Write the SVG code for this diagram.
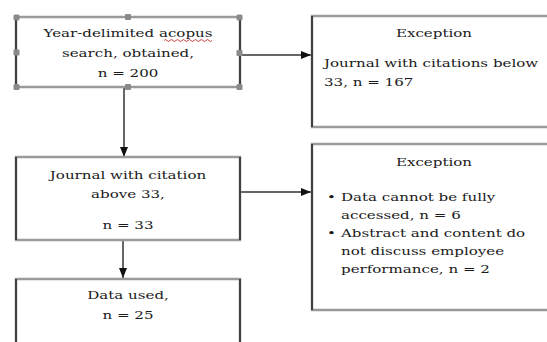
<svg xmlns="http://www.w3.org/2000/svg" width="547" height="342" viewBox="0 0 547 342">
<defs>
<style>
.box{fill:#fff;stroke:#9a9a9a;stroke-width:2.5}
.side{stroke:#222;stroke-width:1.5}
.t{font-family:"DejaVu Serif",serif;font-size:11.5px;fill:#1a1a1a}
.c{text-anchor:middle}
.conn{stroke:#333;stroke-width:1.5;fill:none}
.h{fill:#8a8a8a}
</style>
<marker id="arr" viewBox="0 0 10 8" refX="10" refY="4" markerWidth="10" markerHeight="8" markerUnits="userSpaceOnUse" orient="auto">
<path d="M0,0 L10,4 L0,8 z" fill="#111"/>
</marker>
</defs>
<rect width="547" height="342" fill="#fff"/>

<g id="connectors">
<line class="conn" x1="240" y1="55" x2="311" y2="55" marker-end="url(#arr)"/>
<line class="conn" x1="124" y1="88" x2="124" y2="157" marker-end="url(#arr)"/>
<line class="conn" x1="240" y1="192" x2="311" y2="192" marker-end="url(#arr)"/>
<line class="conn" x1="123" y1="241" x2="123" y2="278" marker-end="url(#arr)"/>
</g>

<g id="search">
<rect class="box" x="16" y="17" width="224" height="70"/>
<line class="side" x1="16" y1="17" x2="16" y2="87"/>
<line class="side" x1="240" y1="17" x2="240" y2="87"/>
<text class="t c" transform="translate(128,37) scale(1.31,1)">Year-delimited acopus</text>
<path d="M164,40.5 q1.5,-2 3,0 t3,0 t3,0 t3,0 t3,0 t3,0 t3,0 t3,0 t3,0 t3,0 t3,0 t3,0 t3,0 t3,0 t3,0 t3,0" fill="none" stroke="#d04040" stroke-width="1"/>
<text class="t c" transform="translate(128,57) scale(1.31,1)">search, obtained,</text>
<text class="t c" transform="translate(128,77) scale(1.31,1)">n = 200</text>
<g class="handles">
<rect class="h" x="13.5" y="14.5" width="6" height="6" rx="1.5"/>
<rect class="h" x="125" y="14" width="6" height="6" rx="1"/>
<rect class="h" x="236.5" y="14.5" width="6" height="6" rx="1.5"/>
<rect class="h" x="13.5" y="49.5" width="6" height="6" rx="1"/>
<rect class="h" x="236.5" y="50" width="6" height="6" rx="1"/>
<rect class="h" x="13.5" y="84" width="6" height="6" rx="1.5"/>
<rect class="h" x="125" y="84" width="6" height="6" rx="1"/>
<rect class="h" x="236.5" y="84" width="6" height="6" rx="1.5"/>
</g>
</g>

<g id="exception1">
<rect class="box" x="312" y="16" width="250" height="111"/>
<line class="side" x1="312" y1="16" x2="312" y2="127"/>
<text class="t c" transform="translate(434,37) scale(1.31,1)">Exception</text>
<text class="t" transform="translate(324,67) scale(1.31,1)">Journal with citations below</text>
<text class="t" transform="translate(324,86) scale(1.31,1)">33, n = 167</text>
</g>

<g id="above33">
<rect class="box" x="16" y="157" width="224" height="83"/>
<line class="side" x1="16" y1="157" x2="16" y2="240"/>
<line class="side" x1="240" y1="157" x2="240" y2="240"/>
<text class="t c" transform="translate(128,179) scale(1.31,1)">Journal with citation</text>
<text class="t c" transform="translate(128,198) scale(1.31,1)">above 33,</text>
<text class="t c" transform="translate(128,229) scale(1.31,1)">n = 33</text>
</g>

<g id="exception2">
<rect class="box" x="312" y="144" width="250" height="166"/>
<line class="side" x1="312" y1="144" x2="312" y2="310"/>
<text class="t c" transform="translate(434,166) scale(1.31,1)">Exception</text>
<text class="t" transform="translate(327,201) scale(1.31,1)">•</text>
<text class="t" transform="translate(341,201) scale(1.31,1)">Data cannot be fully</text>
<text class="t" transform="translate(341,219) scale(1.31,1)">accessed, n = 6</text>
<text class="t" transform="translate(327,237) scale(1.31,1)">•</text>
<text class="t" transform="translate(341,237) scale(1.31,1)">Abstract and content do</text>
<text class="t" transform="translate(341,255) scale(1.31,1)">not discuss employee</text>
<text class="t" transform="translate(341,273) scale(1.31,1)">performance, n = 2</text>
</g>

<g id="dataused">
<rect class="box" x="16" y="279" width="224" height="80"/>
<line class="side" x1="16" y1="279" x2="16" y2="359"/>
<line class="side" x1="240" y1="279" x2="240" y2="359"/>
<text class="t c" transform="translate(128,299) scale(1.31,1)">Data used,</text>
<text class="t c" transform="translate(128,319) scale(1.31,1)">n = 25</text>
</g>
</svg>
